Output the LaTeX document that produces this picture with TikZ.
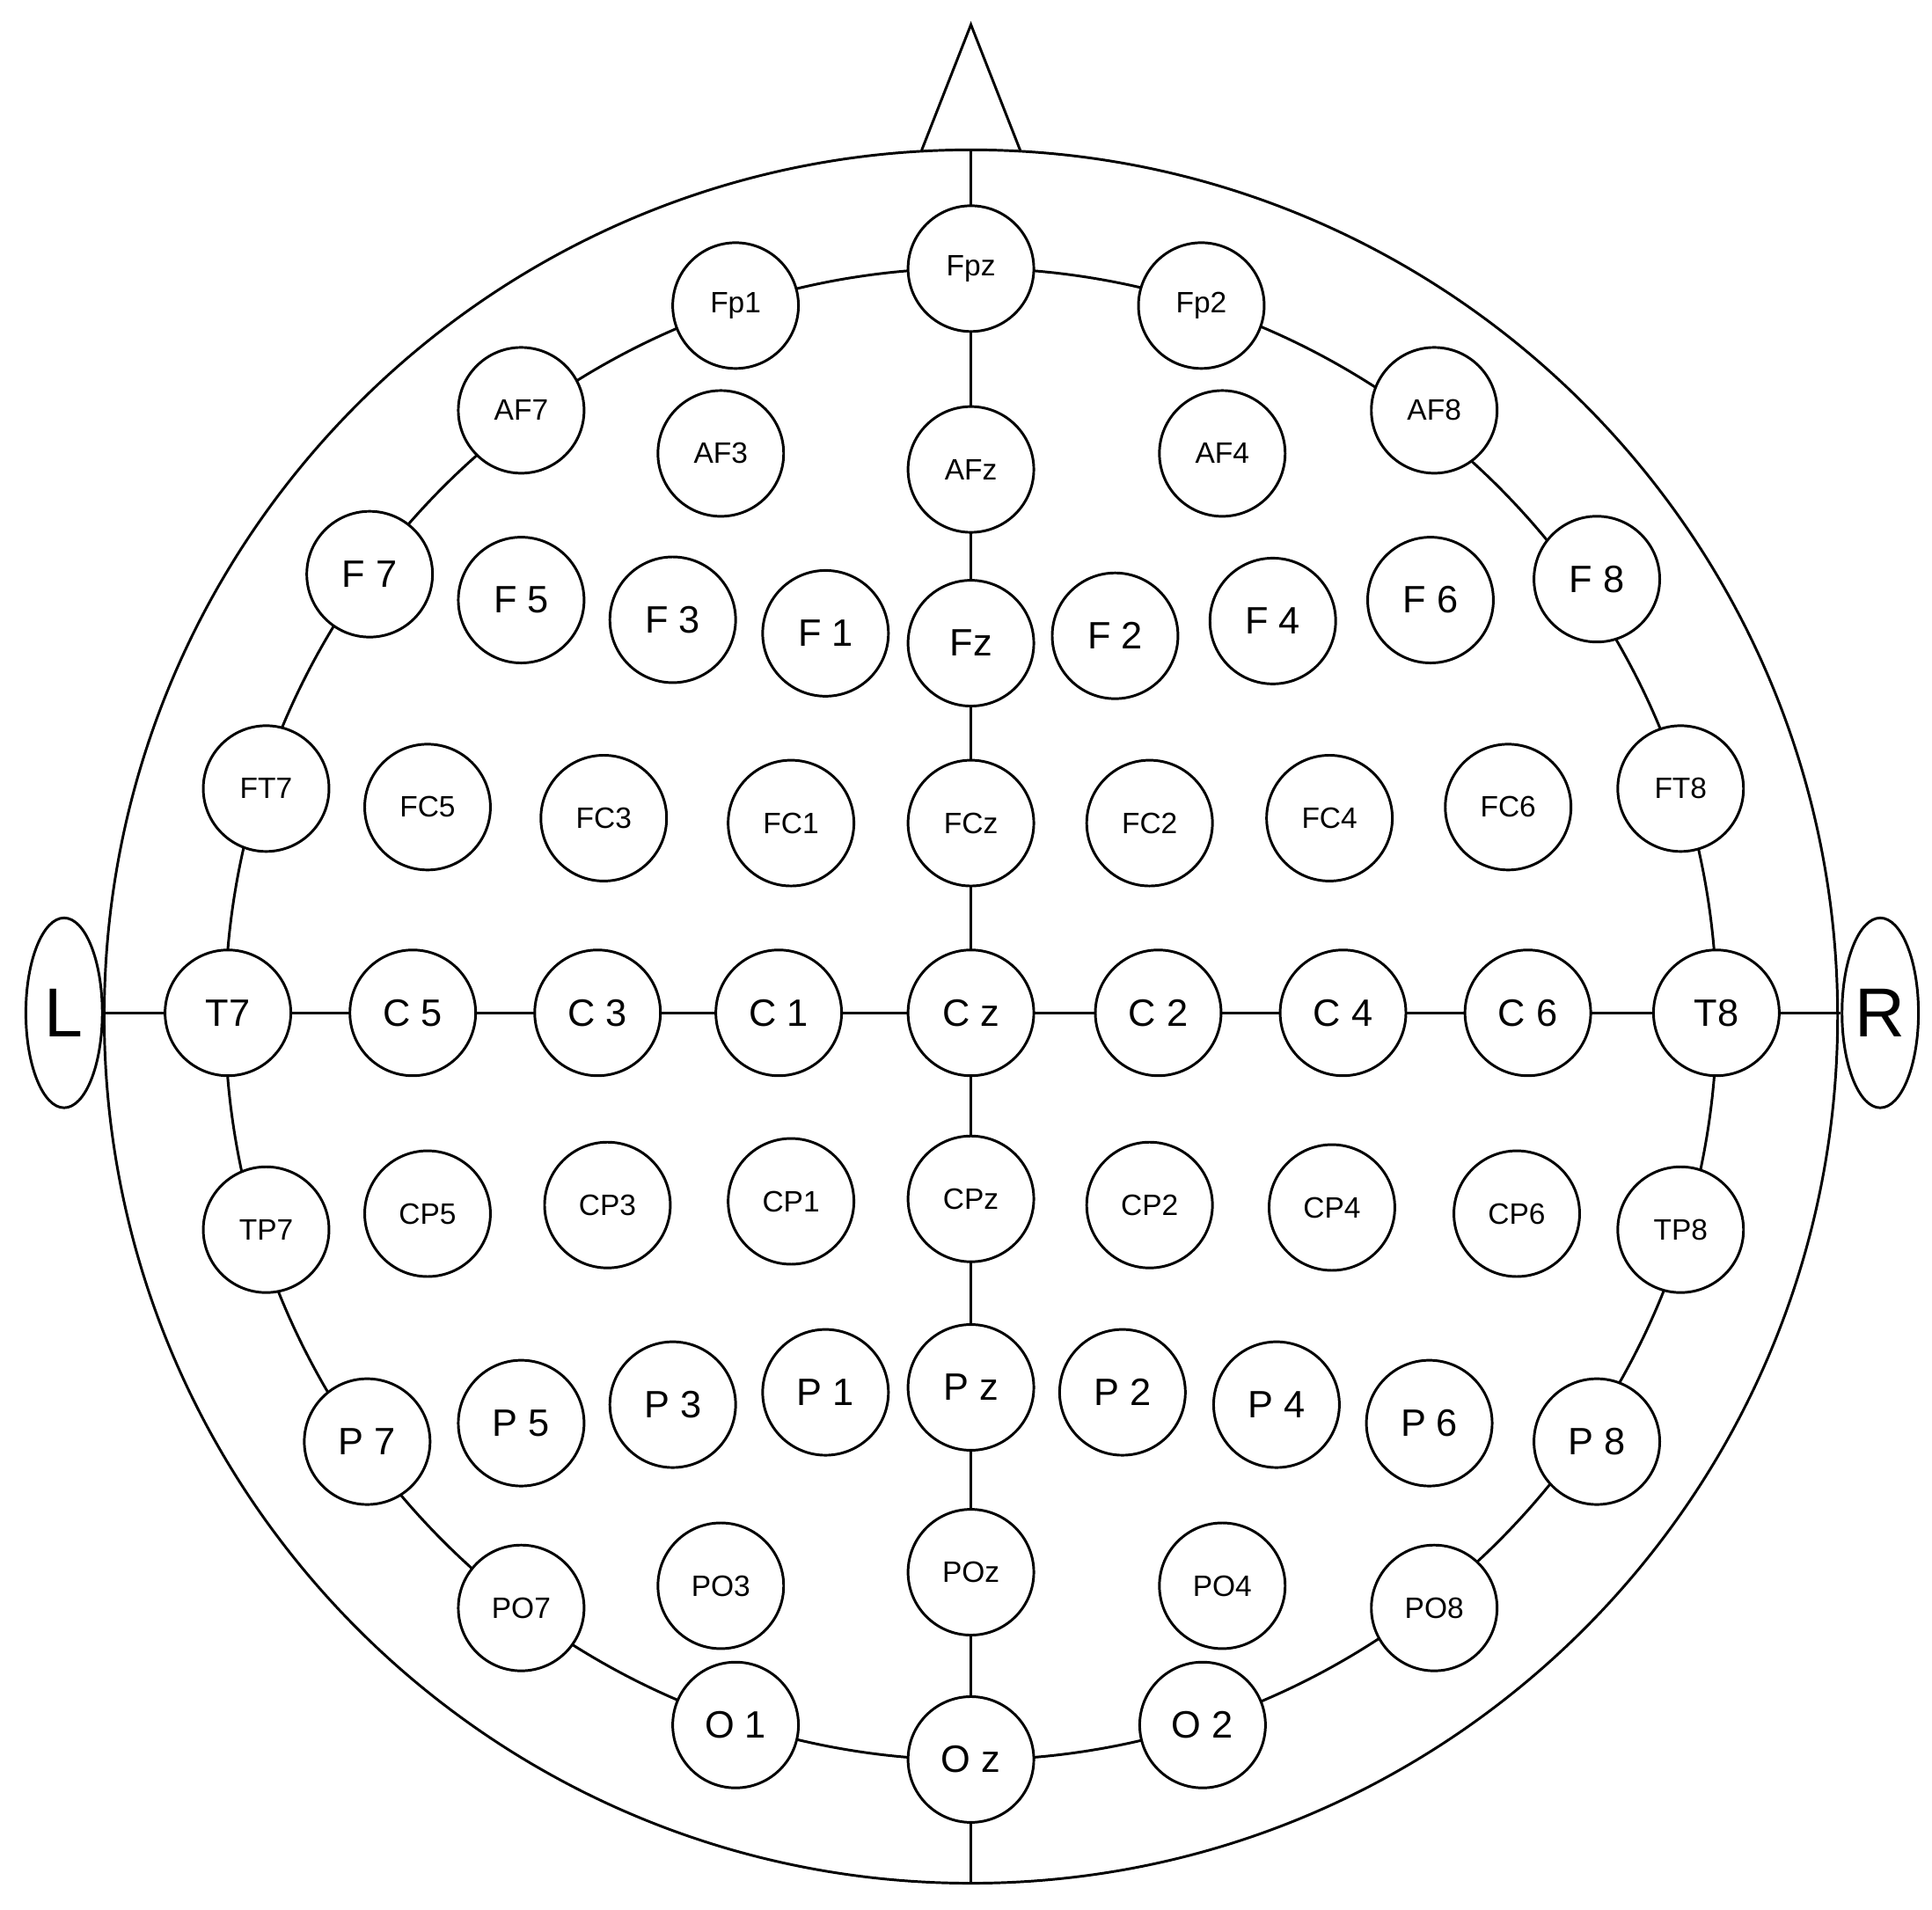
\documentclass[tikz,border=0pt]{standalone}
\usepackage{fontspec}
\setmainfont{Liberation Sans}
\usetikzlibrary{shapes.geometric}
\begin{document}
\begin{tikzpicture}[x=0.01cm,y=-0.01cm,line width=0.6pt,
  el/.style={circle,draw,fill=white,minimum size=1.02cm,inner sep=0pt,font=\fontsize{6.8}{8}\selectfont},
  bl/.style={el,font=\fontsize{8.8}{10}\selectfont}]
\useasboundingbox (0,0) rectangle (1568,1550);
\draw (788,825) circle[radius=7.03cm];
\draw (788,823) circle[radius=6.05cm];
\draw (748,122) -- (788,20) -- (828,122);
\node[ellipse,draw,minimum width=0.62cm,minimum height=1.54cm,inner sep=0pt,font=\fontsize{16}{18}\selectfont] (L) at (52,822) {L};
\node[ellipse,draw,minimum width=0.62cm,minimum height=1.54cm,inner sep=0pt,font=\fontsize{16}{18}\selectfont] (R) at (1526,822) {R};
\coordinate (top) at (788,122); \coordinate (bot) at (788,1528);
\draw (top) -- (bot); \draw (L) -- (R);
\foreach \n/\x/\y in {Fpz/788/218,Fp1/597/248,Fp2/975/248,AF7/423/333,AF8/1164/333,AF3/585/368,AFz/788/381,AF4/992/368,
FT7/216/640,FC5/347/655,FC3/490/664,FC1/642/668,FCz/788/668,FC2/933/668,FC4/1079/664,FC6/1224/655,FT8/1364/640,
TP7/216/998,CP5/347/985,CP3/493/978,CP1/642/975,CPz/788/973,CP2/933/978,CP4/1081/980,CP6/1231/985,TP8/1364/998,
PO7/423/1305,PO3/585/1287,POz/788/1276,PO4/992/1287,PO8/1164/1305}
  \node[el] (\n) at (\x,\y) {\n};
\foreach \n/\t/\x/\y in {F7/F 7/300/466,F5/F 5/423/487,F3/F 3/546/503,F1/F 1/670/514,Fz/Fz/788/522,F2/F 2/905/516,F4/F 4/1033/504,F6/F 6/1161/487,F8/F 8/1296/470,
T7/T7/185/822,C5/C 5/335/822,C3/C 3/485/822,C1/C 1/632/822,Cz/C z/788/822,C2/C 2/940/822,C4/C 4/1090/822,C6/C 6/1240/822,T8/T8/1393/822,
P7/P 7/298/1170,P5/P 5/423/1155,P3/P 3/546/1140,P1/P 1/670/1130,Pz/P z/788/1126,P2/P 2/911/1130,P4/P 4/1036/1140,P6/P 6/1160/1155,P8/P 8/1296/1170,
O1/O 1/597/1400,Oz/O z/788/1428,O2/O 2/976/1400}
  \node[bl] (\n) at (\x,\y) {\t};
\end{tikzpicture}
\end{document}
